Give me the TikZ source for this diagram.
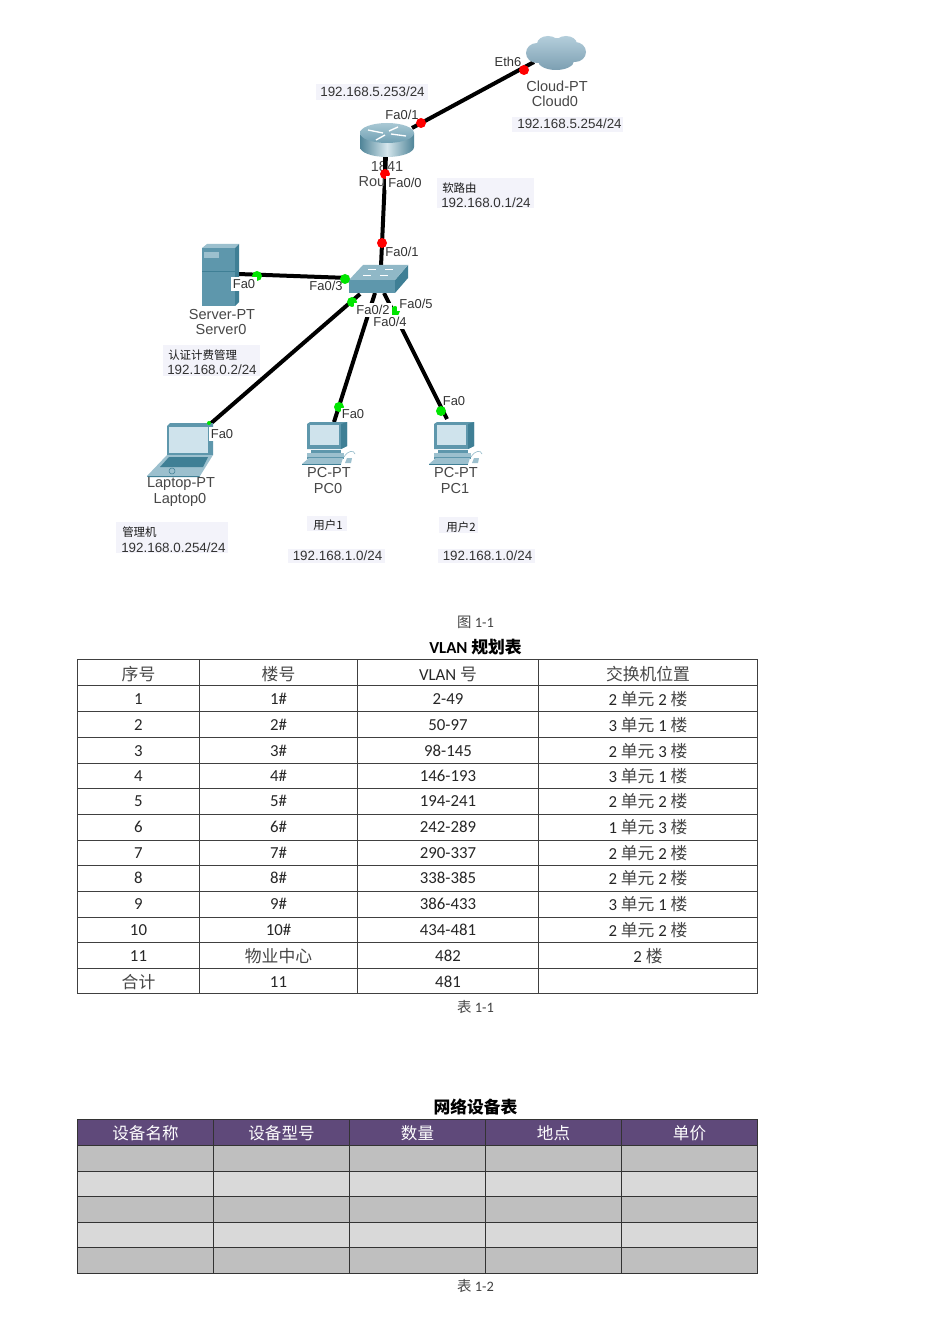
\documentclass[tikz,border=0pt]{standalone}
\usepackage{fontspec}
\setmainfont{Carlito}
\newfontfamily\zhf{Noto Sans CJK SC}
\newfontfamily\netf{Liberation Sans}
\newcommand\zh[1]{{\zhf\color{black!72} #1}}
\newcommand\fsz[1]{\fontsize{#1}{#1}\selectfont}
\definecolor{lbl}{HTML}{F3F3FA}
\definecolor{teal1}{HTML}{5E97AC}
\definecolor{teal2}{HTML}{3F7F95}
\definecolor{teal3}{HTML}{9CC0CE}
\definecolor{scr}{HTML}{CFE3EC}
\definecolor{purp}{HTML}{5F497A}
\definecolor{rowa}{HTML}{BFBFBF}
\definecolor{rowb}{HTML}{D9D9D9}
\definecolor{cloudt}{HTML}{B4CEDB}
\definecolor{cloudb}{HTML}{7C9FB2}
\definecolor{rside}{HTML}{4F8498}
\definecolor{rmid}{HTML}{D5E6EC}
\definecolor{rtop}{HTML}{A9C8D4}
\definecolor{rbot}{HTML}{6E9FB2}
\tikzset{
  link/.style={draw=black,line width=3pt},
  reddot/.style={circle,fill=red,inner sep=0pt,minimum size=7.5pt},
  greendot/.style={circle,fill=green!90!black,inner sep=0pt,minimum size=7.5pt},
  port/.style={font=\netf\fsz{9.7},text=black!80,inner sep=0.5pt},
  portw/.style={port,fill=white,inner sep=1.5pt},
  devname/.style={font=\netf\fsz{10.9},text=black!72,inner sep=0pt},
  addr/.style={font=\netf\fsz{10.05},text=black!80,inner sep=0pt},
  zhlab/.style={font=\zhf\fsz{8.6},text=black!90,inner sep=0pt},
  captxt/.style={font=\fsz{10.8},text=black!75,inner sep=0pt},
  ttl/.style={font=\bfseries\fsz{12.6},inner sep=0pt},
  cell/.style={font=\fsz{12.6},text=black!85,inner sep=0pt},
  hcell/.style={font=\zhf\fsz{12.4},text=white,inner sep=0pt},
  grid1/.style={draw=black!75,line width=0.6pt},
  grid2/.style={draw=black!80,line width=0.7pt},
}
\newcommand\lblbox[4]{\fill[lbl] (#1,#2) rectangle (#3,#4);}
\newcommand\pcicon[1]{%
  \begin{scope}[shift={(#1,0)}]
    \fill[teal1] (307,424) -- (310,422) -- (347,422) -- (347,446) -- (341,449) -- (307,449) -- cycle;
    \fill[teal2] (341,424) -- (347,422) -- (347,446) -- (341,449) -- cycle;
    \fill[scr] (310,425) rectangle (339,445);
    \fill[teal1] (311,450) rectangle (341,453);
    \fill[teal3] (307,453) rectangle (344,457);
    \fill[teal1] (307,457) rectangle (344,459);
    \fill[teal3] (302,464) -- (309,458) -- (343,458) -- (341,464) -- cycle;
    \fill[teal2] (302,464) rectangle (341,465);
    \fill[teal3] (345,463) -- (347,458) -- (352,458) -- (351,463) -- cycle;
    \draw[teal3,line width=0.5pt] (344,457) .. controls (348,450) and (354,450) .. (355,454);
  \end{scope}}
\newcommand\vrow[5]{%
  \node[cell] (v#1a) at (138.5,#2) {#1};
  \node[cell] (v#1b) at (278.5,#2) {#3};
  \node[cell] (v#1c) at (448,#2) {#4};
  \node[cell] (v#1d) at (648,#2) {#5};}
\begin{document}
\begin{tikzpicture}[x=0.75pt,y=-0.75pt]
\useasboundingbox (0,0) rectangle (950,1344);
\fill[white] (0,0) rectangle (950,1344);

% label backgrounds
\lblbox{316}{84}{428}{100}
\lblbox{512}{117}{623}{132}
\lblbox{437}{178}{534}{208}
\lblbox{163}{345}{260}{376}
\lblbox{116}{522}{228}{553}
\lblbox{307}{516}{347}{531}
\lblbox{439}{517}{478}{533}
\lblbox{288}{549}{385}{563}
\lblbox{438}{549}{535}{563}

% connection end points
\coordinate (cloudp) at (534,62);
\coordinate (routerp1) at (412,128);
\coordinate (routerp2) at (386,155);
\coordinate (swtop) at (381,266);
\coordinate (swleft) at (349,278);
\coordinate (swbl) at (360,294);
\coordinate (swbm) at (375,293);
\coordinate (swbr) at (384,293);
\coordinate (srvp) at (238,274);
\coordinate (lapp) at (209,425);
\coordinate (pc0p) at (334,422);
\coordinate (pc1p) at (447,419);

% links
\draw[link] (cloudp) -- (routerp1);
\draw[link] (routerp2) -- (swtop);
\draw[link] (srvp) -- (swleft);
\draw[link] (swbl) -- (lapp);
\draw[link] (swbm) -- (pc0p);
\draw[link] (swbr) -- (pc1p);

% cloud
\shade[top color=cloudt,bottom color=cloudb]
  (556,52) ellipse [x radius=24,y radius=14]
  (537,53) ellipse [x radius=11,y radius=10]
  (575,52) ellipse [x radius=11,y radius=10]
  (548,44) ellipse [x radius=11,y radius=8]
  (566,44) ellipse [x radius=11,y radius=8]
  (556,61) ellipse [x radius=18,y radius=9];

% router
\shade[left color=rside,right color=rside,middle color=rmid]
  (360,133) -- (360,147) arc [start angle=180,end angle=360,x radius=27,y radius=-10] -- (414,133) -- cycle;
\shade[top color=rtop,bottom color=rbot] (387,133) ellipse [x radius=27,y radius=10];
\draw[white,line width=1pt] (368,130) -- (383,133) (406,136) -- (391,134) (376,140) -- (385,135) (398,127) -- (389,131);
\node[devname] (rname1) at (387,166) {1841};
\node[devname] (rname2) at (372,182) {Rou};
\draw[link] (385,157) -- (385,170);

% switch
\fill[teal1] (349,280) -- (395,280) -- (395,293) -- (349,293) -- cycle;
\fill[teal2] (395,280) -- (408,265) -- (408,278) -- (395,293) -- cycle;
\fill[teal3!80!teal1] (363,265) -- (408,265) -- (395,280) -- (349,280) -- cycle;
\draw[white,line width=0.5pt] (368,269) -- (376,269) (385,269) -- (393,269) (363,275) -- (371,275) (380,275) -- (388,275);

% server
\fill[teal1] (202,248) rectangle (235,306);
\fill[teal3] (202,248) -- (207,244) -- (239,244) -- (235,248) -- cycle;
\fill[teal2] (235,248) -- (239,244) -- (239,302) -- (235,306) -- cycle;
\fill[teal3] (204,252) rectangle (219,258);
\draw[teal2,line width=0.4pt] (202,271) -- (235,271);

% laptop
\fill[teal1] (167,426) -- (170,423) -- (213,423) -- (213,455) -- (167,455) -- cycle;
\fill[scr] (169,427) rectangle (208,453);
\fill[teal3] (147,476) -- (167,455) -- (213,455) -- (200,476) -- cycle;
\fill[teal2] (160,467) -- (169,457) -- (208,457) -- (203,467) -- cycle;
\fill[teal2] (147,476) -- (200,476) -- (199,477) -- (148,477) -- cycle;
\draw[teal2,line width=0.4pt] (172,471) circle [radius=3];

% PCs
\pcicon{0}
\pcicon{127}

% dots
\node[reddot] (d1) at (524,70) {};
\node[reddot] (d2) at (421,123) {};
\node[reddot] (d3) at (385,174) {};
\node[reddot] (d4) at (382,243) {};
\node[greendot] (d5) at (257,276) {};
\node[greendot] (d6) at (345,279) {};
\node[greendot] (d7) at (352,302) {};
\node[greendot] (d8) at (395,311) {};
\node[greendot] (d9) at (339,407) {};
\node[greendot] (d10) at (441,411) {};
\node[greendot,minimum size=3pt] (d11) at (209,423) {};

% port labels
\node[port] (pa) at (508,62) {Eth6};
\node[port] (pb) at (402,115) {Fa0/1};
\node[portw] (pc) at (405,183) {Fa0/0};
\node[port] (pd) at (402,252) {Fa0/1};
\node[portw] (pe) at (244,284) {Fa0};
\node[port] (pf) at (326,286) {Fa0/3};
\node[portw] (pg) at (373,310) {Fa0/2};
\node[portw] (ph) at (416,304) {Fa0/5};
\node[portw] (pi) at (390,322) {Fa0/4};
\node[port,fill=white,inner sep=1pt] (pj) at (353,414) {Fa0};
\node[port] (pk) at (454,401) {Fa0};
\node[portw] (pl) at (222,434) {Fa0};

% device names
\node[devname] (n1) at (557,86) {Cloud-PT};
\node[devname] (n2) at (555,101) {Cloud0};
\node[devname] (n3) at (222,314) {Server-PT};
\node[devname] (n4) at (221,329) {Server0};
\node[devname] (n5) at (181,484.5) {Laptop-PT};
\node[devname] (n6) at (180,500) {Laptop0};
\node[devname] (n7) at (329,472) {PC-PT};
\node[devname] (n8) at (328,488) {PC0};
\node[devname] (n9) at (456,472) {PC-PT};
\node[devname] (n10) at (455,488) {PC1};

% addresses
\node[addr] (a1) at (372.5,92) {192.168.5.253/24};
\node[addr] (a2) at (569.5,124) {192.168.5.254/24};
\node[zhlab,anchor=west] (a3) at (442,188) {软路由};
\node[addr,anchor=west] (a4) at (441,203) {192.168.0.1/24};
\node[zhlab,anchor=west] (a5) at (168,355) {认证计费管理};
\node[addr,anchor=west] (a6) at (167,370) {192.168.0.2/24};
\node[zhlab,anchor=west] (a7) at (122,532) {管理机};
\node[addr,anchor=west] (a8) at (121,548) {192.168.0.254/24};
\node[zhlab] (a9) at (328,525) {用户1};
\node[zhlab] (a10) at (461,527) {用户2};
\node[addr] (a11) at (337.5,556) {192.168.1.0/24};
\node[addr] (a12) at (487.5,556) {192.168.1.0/24};

% captions
\node[captxt] (c1) at (475.5,622) {\zh{图} 1-1};
\node[ttl] (t1) at (475.5,647) {VLAN {\zhf\bfseries 规划表}};
\node[captxt] (c2) at (475.5,1007) {\zh{表} 1-1};
\node[ttl] (t2) at (475.5,1107) {\zhf\bfseries 网络设备表};
\node[captxt] (c3) at (475.5,1286) {\zh{表} 1-2};

% table 1
\foreach \yy in {659,685.5,711,737,763,788,814,840,865,891,917,942,968,993.5}
  \draw[grid1] (77,\yy) -- (757.5,\yy);
\foreach \xx in {77.5,199,357.5,538,757.5}
  \draw[grid1] (\xx,659) -- (\xx,993.5);
\node[cell] (h1) at (138.5,674) {\zh{序号}};
\node[cell] (h2) at (278.5,674) {\zh{楼号}};
\node[cell] (h3) at (448,674) {VLAN \zh{号}};
\node[cell] (h4) at (648,674) {\zh{交换机位置}};
\vrow{1}{699}{1\#}{2-49}{2 \zh{单元} 2 \zh{楼}}
\vrow{2}{725}{2\#}{50-97}{3 \zh{单元} 1 \zh{楼}}
\vrow{3}{751}{3\#}{98-145}{2 \zh{单元} 3 \zh{楼}}
\vrow{4}{776}{4\#}{146-193}{3 \zh{单元} 1 \zh{楼}}
\vrow{5}{801}{5\#}{194-241}{2 \zh{单元} 2 \zh{楼}}
\vrow{6}{827}{6\#}{242-289}{1 \zh{单元} 3 \zh{楼}}
\vrow{7}{853}{7\#}{290-337}{2 \zh{单元} 2 \zh{楼}}
\vrow{8}{878}{8\#}{338-385}{2 \zh{单元} 2 \zh{楼}}
\vrow{9}{904}{9\#}{386-433}{3 \zh{单元} 1 \zh{楼}}
\vrow{10}{930}{10\#}{434-481}{2 \zh{单元} 2 \zh{楼}}
\vrow{11}{956}{\zh{物业中心}}{482}{2 \zh{楼}}
\node[cell] (s1) at (138.5,982) {\zh{合计}};
\node[cell] (s2) at (278.5,982) {11};
\node[cell] (s3) at (448,982) {481};

% table 2
\fill[purp] (77,1119) rectangle (757.5,1145);
\fill[rowa] (77,1145) rectangle (757.5,1171);
\fill[rowb] (77,1171) rectangle (757.5,1196);
\fill[rowa] (77,1196) rectangle (757.5,1222);
\fill[rowb] (77,1222) rectangle (757.5,1247);
\fill[rowa] (77,1247) rectangle (757.5,1273);
\foreach \yy in {1119,1145,1171,1196,1222,1247,1273}
  \draw[grid2] (77,\yy) -- (757.5,\yy);
\foreach \xx in {77.5,213.5,349.5,485.5,621.5,757.5}
  \draw[grid2] (\xx,1119) -- (\xx,1273);
\node[hcell] (g1) at (145.5,1133) {设备名称};
\node[hcell] (g2) at (281.5,1133) {设备型号};
\node[hcell] (g3) at (417.5,1133) {数量};
\node[hcell] (g4) at (553.5,1133) {地点};
\node[hcell] (g5) at (689.5,1133) {单价};
\end{tikzpicture}
\end{document}
